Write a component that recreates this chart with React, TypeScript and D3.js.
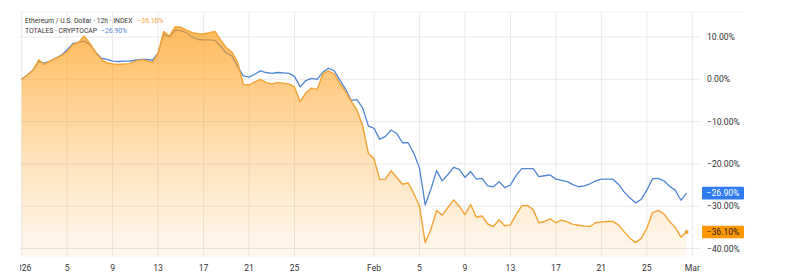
import React from "react";
import * as d3 from "d3";

// ---- data (12h steps from 2026-01-01 00:00 UTC) ----
const ethValues: number[] = [
  0, 1.0, 2.2, 4.6, 3.5, 4.3, 5.0, 5.6, 6.5, 8.2,
  8.7, 10.2, 8.5, 6.4, 4.7, 3.9, 3.6, 3.5, 3.6, 3.7,
  4.3, 4.6, 4.4, 3.9, 6.2, 11.3, 10.2, 12.4, 12.3, 11.6,
  11.0, 10.8, 10.7, 11.0, 11.3, 9.3, 7.5, 6.4, 4.0, -1.2,
  -1.35, -0.6, 0, -0.8, -1.1, -0.8, -0.9, -1.1, -1.8, -5.3,
  -3.2, -2.1, -2.4, 1.3, 2.0, 1.2, -1.0, -3.0, -5.2, -7.3,
  -11.0, -17.5, -18.8, -23.7, -23.6, -21.6, -23.2, -24.8, -24.5, -27.0,
  -30.0, -38.6, -35.5, -31.0, -32.1, -30.3, -28.5, -30.0, -32.0, -29.6,
  -32.6, -32.3, -34.2, -34.8, -33.2, -34.6, -34.4, -32.0, -29.9, -29.8,
  -30.8, -33.9, -33.6, -33.0, -33.9, -33.3, -33.7, -34.3, -34.5, -34.7,
  -34.8, -33.9, -33.7, -33.6, -33.6, -34.4, -36.0, -37.5, -38.6, -37.6,
  -35.2, -31.5, -31.0, -31.8, -33.6, -35.0, -37.3, -36.1,
];
const totalValues: number[] = [
  0, 1.0, 2.2, 4.2, 3.8, 4.3, 5.0, 5.7, 7.0, 8.4,
  8.7, 9.0, 8.2, 6.4, 5.0, 4.7, 4.3, 4.2, 4.3, 4.3,
  4.5, 4.7, 4.7, 4.5, 6.2, 10.7, 10.0, 11.6, 11.5, 11.0,
  10.0, 9.4, 9.3, 9.3, 9.2, 7.8, 6.2, 5.5, 3.0, 0.8,
  0.5, 1.2, 2.0, 1.6, 1.4, 1.6, 1.5, 1.4, 0.7, -1.8,
  -0.3, 0.2, 0.0, 1.7, 2.6, 2.0, -0.2, -2.4, -5.0, -4.8,
  -6.8, -11.0, -11.6, -14.2, -13.5, -12.0, -12.8, -15.0, -15.0, -17.5,
  -21.0, -29.7, -26.0, -21.6, -24.0, -22.5, -20.8, -21.3, -23.2, -21.8,
  -23.6, -23.4, -25.2, -25.4, -24.2, -25.6, -25.0, -22.7, -21.1, -21.1,
  -21.1, -23.0, -22.8, -22.6, -23.6, -23.9, -24.2, -24.9, -25.4, -25.2,
  -24.7, -24.0, -23.6, -23.6, -23.6, -24.8, -26.6, -28.0, -29.2, -28.4,
  -26.2, -23.5, -23.4, -24.0, -25.3, -26.2, -28.6, -26.9,
];
const startDate = "2026-01-01T00:00:00Z";
const endDate = "2026-03-01T00:00:00Z";
const xTickDates: string[] = [
  "2026-01-01", "2026-01-05", "2026-01-09", "2026-01-13", "2026-01-17",
  "2026-01-21", "2026-01-25", "2026-02-01", "2026-02-05", "2026-02-09",
  "2026-02-13", "2026-02-17", "2026-02-21", "2026-02-25", "2026-03-01",
];
const xTickLabels: string[] = [
  "2026", "5", "9", "13", "17", "21", "25", "Feb", "5", "9", "13", "17", "21", "25", "Mar",
];
const yTicks: number[] = [10, 0, -10, -20, -30, -40];
const ethName = "Ethereum / U.S. Dollar · 12h · INDEX";
const totalName = "TOTALES · CRYPTOCAP";
const ethLast = -36.1;
const totalLast = -26.9;

const W = 794;
const H = 279;
const FONT = "Roboto, 'Open Sans', sans-serif";
const ORANGE = "#F4A333";
const BLUE = "#4F86D4";

function fmt(v: number): string {
  const s = Math.abs(v).toFixed(2) + "%";
  return v < 0 ? "\u2212" + s : s;
}

export default function App() {
  const plotLeft = 20;
  const plotRight = 700;
  const plotTop = 12;
  const plotBottom = 257;

  const x = d3
    .scaleUtc()
    .domain([new Date(startDate), new Date(endDate)])
    .range([21.7, 692.3]);
  const y = d3.scaleLinear().domain([-42, 15.9]).range([plotBottom, plotTop]);

  const t0 = new Date(startDate).getTime();
  const half = 12 * 3600 * 1000;
  const eth = ethValues.map((v, i) => ({ t: new Date(t0 + i * half), v }));
  const tot = totalValues.map((v, i) => ({ t: new Date(t0 + i * half), v }));

  const line = d3
    .line<{ t: Date; v: number }>()
    .x((d) => x(d.t))
    .y((d) => y(d.v));
  const area = d3
    .area<{ t: Date; v: number }>()
    .x((d) => x(d.t))
    .y0(plotBottom)
    .y1((d) => y(d.v));

  const lastEth = eth[eth.length - 1];

  return (
    <svg
      width={W}
      height={H}
      style={{ position: "absolute", left: 0, top: 0, background: "#fff" }}
      fontFamily={FONT}
    >
      <defs>
        <linearGradient id="ethFill" gradientUnits="userSpaceOnUse" x1="0" y1={y(12)} x2="0" y2={plotBottom}>
          <stop offset="0" stopColor="#FF9A10" stopOpacity={0.68} />
          <stop offset="0.55" stopColor="#FF9A10" stopOpacity={0.3} />
          <stop offset="1" stopColor="#FF9A10" stopOpacity={0.06} />
        </linearGradient>
        <clipPath id="plotClip">
          <rect x={plotLeft} y={0} width={plotRight - plotLeft} height={H} />
        </clipPath>
        <clipPath id="leftClip">
          <rect x={plotLeft} y={0} width={W - plotLeft} height={H} />
        </clipPath>
      </defs>

      {/* top border */}
      <line x1={plotLeft} x2={744} y1={plotTop} y2={plotTop} stroke="#f0f0f0" strokeWidth={1} />

      {/* grid */}
      {yTicks.map((t) => (
        <line key={"h" + t} x1={plotLeft} x2={plotRight} y1={y(t)} y2={y(t)} stroke="#e9e9e9" strokeWidth={1} />
      ))}
      {xTickDates.map((d) => (
        <line
          key={"v" + d}
          x1={x(new Date(d + "T00:00:00Z"))}
          x2={x(new Date(d + "T00:00:00Z"))}
          y1={plotTop}
          y2={plotBottom}
          stroke="#e9e9e9"
          strokeWidth={1}
        />
      ))}

      <g clipPath="url(#plotClip)">
        <path d={line(tot) || ""} fill="none" stroke={BLUE} strokeWidth={1.3} strokeLinejoin="round" />
        <path d={area(eth) || ""} fill="url(#ethFill)" />
        <path d={line(eth) || ""} fill="none" stroke={ORANGE} strokeWidth={1.4} strokeLinejoin="round" />
        <circle cx={x(lastEth.t)} cy={y(lastEth.v)} r={2} fill={ORANGE} />
      </g>

      {/* legend */}
      <text x={25} y={23.3} fontSize={6.8} fill="#333">
        {ethName}
        <tspan dx={5} fill={ORANGE}>{fmt(ethLast)}</tspan>
      </text>
      <text x={25} y={33.3} fontSize={6.8} fill="#333">
        {totalName}
        <tspan dx={4} fill={BLUE}>{fmt(totalLast)}</tspan>
      </text>

      {/* y axis labels */}
      {yTicks.map((t) => (
        <text key={"yl" + t} x={707} y={y(t)} dy="0.35em" fontSize={8.6} fill="#333">
          {fmt(t)}
        </text>
      ))}

      {/* last value labels */}
      <rect x={702} y={y(totalLast) - 6.3} width={42} height={12.6} fill="#2F7CF0" rx={1} />
      <text x={723} y={y(totalLast)} dy="0.35em" fontSize={8.6} fill="#fff" textAnchor="middle">
        {fmt(totalLast)}
      </text>
      <rect x={702} y={y(ethLast) - 6.3} width={42} height={12.6} fill="#FF9800" rx={1} />
      <text x={723} y={y(ethLast)} dy="0.35em" fontSize={8.6} fill="#222" textAnchor="middle">
        {fmt(ethLast)}
      </text>

      {/* x axis labels */}
      <g clipPath="url(#leftClip)">
        {xTickDates.map((d, i) => (
          <text
            key={"xl" + d}
            x={x(new Date(d + "T00:00:00Z"))}
            y={271}
            fontSize={8.6}
            fill="#333"
            textAnchor="middle"
          >
            {xTickLabels[i]}
          </text>
        ))}
      </g>
    </svg>
  );
}
